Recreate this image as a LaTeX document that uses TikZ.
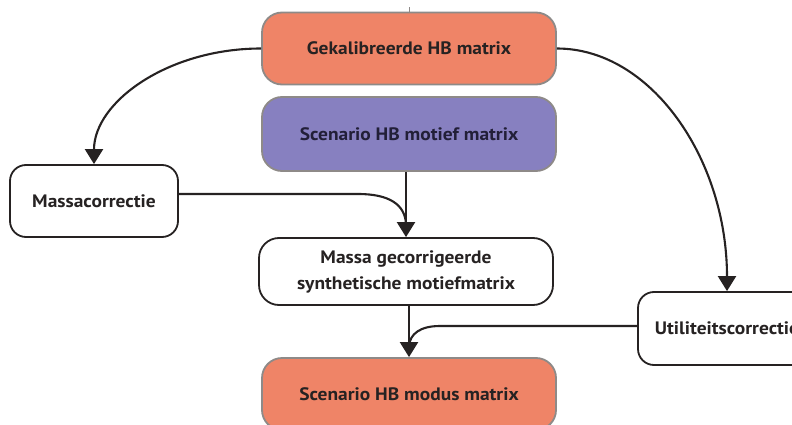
\documentclass[tikz,border=0pt]{standalone}
\usepackage{fontspec}
\setmainfont{PT Sans}[FakeStretch=1.08]
\usetikzlibrary{arrows.meta}
\definecolor{salmon}{HTML}{EF8467}
\definecolor{lavender}{HTML}{8780C0}
\definecolor{rim}{HTML}{8E8A88}
\definecolor{ink}{HTML}{262222}
\begin{document}
\begin{tikzpicture}[x=1pt,y=-1pt,
  every node/.style={font=\fontsize{18}{26}\selectfont\bfseries, text=ink, align=center},
  colorbox/.style={rectangle, rounded corners=20pt, draw=rim, line width=1.8pt,
                   minimum width=294pt, minimum height=72pt},
  plainbox/.style={rectangle, rounded corners=16pt, draw=ink, line width=1.8pt, fill=white},
  flow/.style={draw=ink, line width=2.1pt, -{Triangle[width=18pt,length=15pt]}},
  feed/.style={draw=ink, line width=2.1pt}]
\clip (0,0) rectangle (792,425);
\fill[white] (0,0) rectangle (792,425);

% boxes
\node[colorbox, fill=salmon] (cal) at (409,48.5) {Gekalibreerde HB matrix};
\node[colorbox, fill=lavender, minimum height=74pt, text=ink!90!blue] (motif) at (409,134) {Scenario HB motief matrix};
\node[plainbox, minimum width=168pt, minimum height=72pt] (mass) at (94,201) {Massacorrectie};
\node[plainbox, rounded corners=20pt, minimum width=294pt, minimum height=67pt] (synth) at (406,271.5)
  {Massa gecorrigeerde\\synthetische motiefmatrix};
\node[plainbox, minimum width=178pt, minimum height=73pt] (util) at (727,328.5) {Utiliteitscorrectie};
\node[colorbox, fill=salmon, minimum height=72pt] (mode) at (409,394) {Scenario HB modus matrix};

% small stub above the top box
\draw[rim, line width=1pt] (cal.north) -- ++(0,-5);

% curved connectors out of the calibrated matrix
\draw[flow] (cal.west) .. controls (168,48.5) and (94,102) .. (mass.north);
\draw[flow] (cal.east) .. controls (651,48.5) and (727,159) .. (util.north);

% into the mass-corrected matrix
\coordinate (bendA) at (358,194);
\coordinate (joinA) at (406,224);
\draw[feed] (bendA -| mass.east) -- (bendA) .. controls (390,194) and (405,205) .. (joinA);
\draw[flow] (motif.south -| synth.north) -- (synth.north);

% into the mode matrix
\coordinate (bendB) at (440,326);
\coordinate (joinB) at (409,346);
\draw[feed] (bendB -| util.west) -- (bendB) .. controls (420,326) and (410,334) .. (joinB);
\draw[flow] (synth.south -| mode.north) -- (mode.north);
\end{tikzpicture}
\end{document}
